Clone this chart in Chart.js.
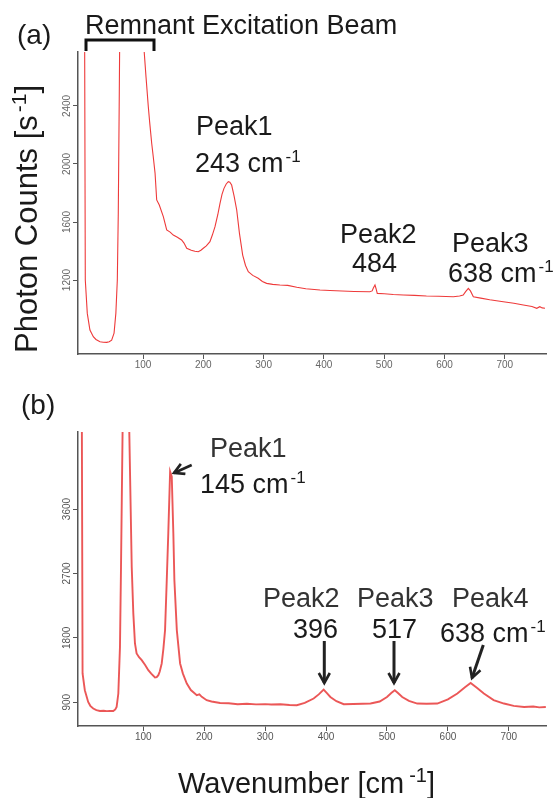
<!DOCTYPE html>
<html>
<head>
<meta charset="utf-8">
<script src="https://cdn.jsdelivr.net/npm/chart.js@4.4.0/dist/chart.umd.min.js"></script>
<style>
  html, body { margin: 0; padding: 0; background: #fff; }
  #page { position: relative; width: 557px; height: 798px; overflow: hidden; }
  canvas { position: absolute; left: 0; }
  #chartA { top: 0; }
  #chartB { top: 400px; }
  svg { position: absolute; left: 0; top: 0; pointer-events: none; }
  text { font-family: "Liberation Sans", Arial, sans-serif; }
</style>
</head>
<body>
<div id="page">
  <canvas id="chartA" width="557" height="385"></canvas>
  <canvas id="chartB" width="557" height="360"></canvas>
  <svg width="557" height="798">
    <defs>
      <marker id="head" markerWidth="14" markerHeight="14" refX="11" refY="7" orient="auto" markerUnits="userSpaceOnUse">
        <path d="M1,1.5 L11,7 L1,12.5" fill="none" stroke="#222" stroke-width="2.6"/>
      </marker>
    </defs>
    <!-- panel a -->
    <text x="17" y="44" font-size="28" fill="#1a1a1a">(a)</text>
    <text x="85" y="34" font-size="27" fill="#1a1a1a">Remnant Excitation Beam</text>
    <path d="M86,51 L86,40 L154,40 L154,51" fill="none" stroke="#111" stroke-width="3"/>
    <text transform="translate(37,353) rotate(-90)" font-size="31" fill="#1a1a1a">Photon Counts [s<tspan font-size="21" dx="3" dy="-11">-1</tspan><tspan dy="11">]</tspan></text>
    <text x="196" y="135" font-size="27" fill="#1a1a1a">Peak1</text>
    <text x="195" y="172" font-size="27" fill="#1a1a1a">243 cm<tspan font-size="17" dx="2" dy="-10">-1</tspan></text>
    <text x="340" y="243" font-size="27" fill="#1a1a1a">Peak2</text>
    <text x="352" y="272" font-size="27" fill="#1a1a1a">484</text>
    <text x="452" y="252" font-size="27" fill="#1a1a1a">Peak3</text>
    <text x="448" y="282" font-size="27" fill="#1a1a1a">638 cm<tspan font-size="17" dx="2" dy="-10">-1</tspan></text>
    <!-- panel b -->
    <text x="21" y="414" font-size="28" fill="#1a1a1a">(b)</text>
    <text x="210" y="457" font-size="27" fill="#333">Peak1</text>
    <text x="200" y="493" font-size="27" fill="#1a1a1a">145 cm<tspan font-size="17" dx="2" dy="-10">-1</tspan></text>
    <line x1="191.7" y1="465" x2="174" y2="473" stroke="#222" stroke-width="2.6" marker-end="url(#head)"/>
    <text x="263" y="607" font-size="27" fill="#333">Peak2</text>
    <text x="357" y="607" font-size="27" fill="#333">Peak3</text>
    <text x="452" y="607" font-size="27" fill="#333">Peak4</text>
    <text x="293" y="638" font-size="27" fill="#1a1a1a">396</text>
    <text x="372" y="638" font-size="27" fill="#1a1a1a">517</text>
    <text x="440" y="642" font-size="27" fill="#1a1a1a">638 cm<tspan font-size="17" dx="2" dy="-10">-1</tspan></text>
    <line x1="324.3" y1="641" x2="324.3" y2="683" stroke="#222" stroke-width="3" marker-end="url(#head)"/>
    <line x1="394" y1="641" x2="394" y2="683" stroke="#222" stroke-width="3" marker-end="url(#head)"/>
    <line x1="483.3" y1="645" x2="472" y2="678" stroke="#222" stroke-width="3" marker-end="url(#head)"/>
    <text x="178" y="793" font-size="29" fill="#1a1a1a">Wavenumber [cm<tspan font-size="20" dx="5" dy="-11">-1</tspan><tspan dy="11">]</tspan></text>
  </svg>
</div>
<script>
// (a) spectrum
var waveA = [3, 4.3, 7.6, 12, 17.6, 22, 28.7, 34, 39.8, 44, 48, 52, 55, 57.4, 59, 60.7, 62,
  100, 102, 105, 108.8, 111, 114.4, 117, 120, 122.7, 127, 133.7, 139.3, 145, 150.2, 157, 164,
  168, 172.5, 180, 186, 191.7, 196, 200, 205, 211, 215, 219.4, 224, 227.7, 231, 234.3, 238,
  241.5, 244, 247, 251, 255.4, 260, 265.3, 270, 274.6, 282, 291, 298, 305, 315, 327, 340, 355,
  370, 393.5, 410, 430, 450, 476, 480, 482, 484.7, 486.5, 488.5, 500, 515, 531.7, 550, 570,
  590, 614.6, 625, 631, 635, 639.5, 643, 647.8, 660, 675, 697.5, 715, 730.7, 745, 753, 758,
  762, 766.7];
var countsA = [3200, 1200, 970, 855, 809, 790, 775, 771, 770, 774, 786, 834, 972, 1200, 1662, 2500, 3200,
  3200, 2772, 2600, 2395, 2290, 2143, 2050, 1936, 1752, 1717, 1637, 1545, 1530, 1510, 1495, 1476,
  1455, 1419, 1405, 1398, 1395, 1405, 1419, 1435, 1464, 1510, 1568, 1650, 1729, 1790, 1832, 1862,
  1878, 1875, 1855, 1780, 1683, 1520, 1372, 1300, 1257, 1232, 1212, 1190, 1177, 1170, 1166, 1163, 1150,
  1140, 1131, 1128, 1124, 1121, 1119, 1125, 1145, 1166, 1140, 1108, 1105, 1100, 1097, 1094, 1090,
  1088, 1085, 1090, 1097, 1120, 1143, 1125, 1085, 1075, 1064, 1050, 1040, 1028, 1018, 1005, 1016,
  1008, 1005];

// (b) spectrum
var waveB = [-1, 0.3, 4, 9.5, 13, 17.8, 23, 28.8, 35, 40, 45, 50.7, 54, 56.2, 59, 61.7, 63.4, 66, 67,
  76, 77, 81, 83.6, 86.3, 89, 93, 97.4, 103, 108.2, 113, 119.2, 122, 124.7, 127, 130.2, 133, 135.7,
  138.5, 141, 144, 146.7, 149.3, 151, 155, 160.4, 165, 171.4, 178, 187.8, 192, 196, 204, 212, 226,
  240, 255, 270, 285, 300, 310, 325, 340, 352, 365, 379.6, 388, 396, 401, 407, 417, 429, 445, 460,
  473, 488, 500, 507, 512.8, 518, 525, 536, 549.7, 565, 582.6, 600, 615.5, 628, 637.3, 648, 659,
  675, 692, 708, 725, 740, 750, 760.7];
var countsB = [5200, 1302, 1068, 904, 850, 812, 790, 778, 782, 776, 780, 778, 800, 834, 1022, 1674, 2790, 4700, 5200,
  5200, 4677, 2790, 2142, 1722, 1582, 1530, 1488, 1420, 1348, 1300, 1246, 1250, 1278, 1330, 1442, 1650, 1908,
  2608, 3262, 4124, 4054, 3262, 2608, 1908, 1442, 1300, 1162, 1070, 998, 1010, 975, 928, 910, 890,
  885, 872, 878, 870, 874, 868, 872, 862, 858, 890, 952, 1010, 1078, 1030, 974, 915, 872, 875, 878,
  882, 910, 974, 1030, 1068, 1030, 974, 920, 882, 878, 882, 940, 1022, 1110, 1170, 1100, 1022,
  930, 882, 850, 834, 840, 828, 834];

var xTicks = [100, 200, 300, 400, 500, 600, 700];
var yTicksA = [1200, 1600, 2000, 2400];
var yTicksB = [900, 1800, 2700, 3600];

function toPoints(xs, ys) {
  return xs.map(function (x, i) { return { x: x, y: ys[i] }; });
}

// y tick labels are set vertically in the figure, chart.js won't rotate them on a y axis
var verticalYLabels = {
  id: 'verticalYLabels',
  afterDraw: function (chart, args, opts) {
    var scale = chart.scales.y;
    var ctx = chart.ctx;
    ctx.save();
    ctx.font = opts.font;
    ctx.fillStyle = opts.color;
    ctx.textAlign = 'center';
    ctx.textBaseline = 'middle';
    scale.ticks.forEach(function (t) {
      var py = scale.getPixelForValue(t.value);
      ctx.save();
      ctx.translate(scale.right - 11, py);
      ctx.rotate(-Math.PI / 2);
      ctx.fillText(String(t.value), 0, 0);
      ctx.restore();
    });
    ctx.restore();
  }
};

function makeChart(id, points, xRange, yRange, yTicks, line, pad, xHeight, labelColor) {
  return new Chart(document.getElementById(id), {
    type: 'line',
    data: {
      datasets: [{
        data: points,
        borderColor: line.color,
        borderWidth: line.width,
        pointRadius: 0,
        tension: 0,
        fill: false
      }]
    },
    options: {
      responsive: false,
      animation: false,
      devicePixelRatio: 1,
      layout: { padding: pad },
      plugins: {
        legend: { display: false },
        tooltip: { enabled: false },
        verticalYLabels: { font: '10px "Liberation Sans", Arial, sans-serif', color: labelColor }
      },
      scales: {
        x: {
          type: 'linear',
          min: xRange[0],
          max: xRange[1],
          afterBuildTicks: function (s) { s.ticks = xTicks.map(function (v) { return { value: v }; }); },
          afterFit: function (s) { s.height = xHeight; },
          border: { color: '#555', width: 1.5 },
          grid: { drawOnChartArea: false, tickLength: 5, color: '#555' },
          ticks: {
            padding: 0,
            color: labelColor,
            font: { family: '"Liberation Sans", Arial, sans-serif', size: 10 },
            callback: function (v) { return String(v); }
          }
        },
        y: {
          type: 'linear',
          min: yRange[0],
          max: yRange[1],
          afterBuildTicks: function (s) { s.ticks = yTicks.map(function (v) { return { value: v }; }); },
          afterFit: function (s) { s.width = 78; },
          border: { color: '#555', width: 1.5 },
          grid: { drawOnChartArea: false, tickLength: 5, color: '#555' },
          ticks: { display: false }
        }
      }
    },
    plugins: [verticalYLabels]
  });
}

makeChart('chartA', toPoints(waveA, countsA), [-7.8, 768.3], [690, 2772], yTicksA,
  { color: '#ee3a3a', width: 1.1 }, { left: 0, right: 11, top: 52, bottom: 0 }, 31, '#666');
makeChart('chartB', toPoints(waveB, countsB), [-7.2, 761], [568, 4677], yTicksB,
  { color: 'rgba(232,58,58,0.85)', width: 1.9 }, { left: 0, right: 11, top: 32, bottom: 0 }, 34, '#555');
</script>
</body>
</html>
